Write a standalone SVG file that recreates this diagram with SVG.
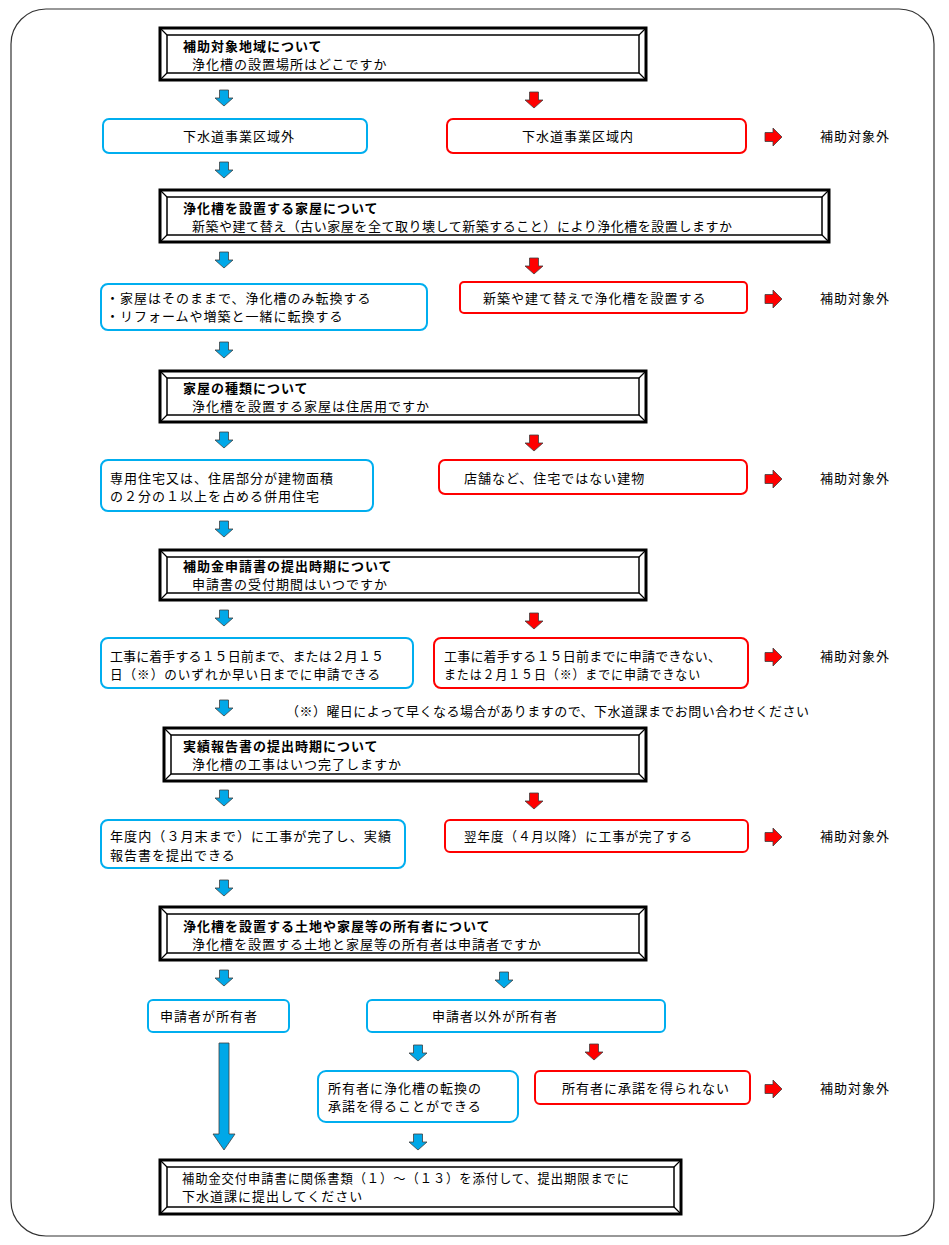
<svg xmlns="http://www.w3.org/2000/svg" width="949" height="1245" viewBox="0 0 949 1245">
<defs>
<style>
text{font-family:"Noto Sans CJK JP","Noto Sans CJK SC",sans-serif;font-size:13px;fill:#000;letter-spacing:1px}
.b{font-weight:bold}
.fo{fill:#fff;stroke:#000;stroke-width:3}
.fi{fill:#fff;stroke:#000;stroke-width:1.5}
.fl{stroke:#000;stroke-width:1.2}
.bb{fill:#fff;stroke:#00AEEF;stroke-width:2}
.rb{fill:#fff;stroke:#FF0000;stroke-width:2}
.ab{fill:#00A8E8;stroke:#404040;stroke-width:0.8}
.ar{fill:#FF0000;stroke:#404040;stroke-width:0.8}
</style>
<path id="dn" d="M-4.5,0 H4.5 V8 H9 L0,16 L-9,8 H-4.5 Z"/>
<path id="rt" d="M0,-4.5 V4.5 H8 V9 L17,0 L8,-9 V-4.5 Z"/>
</defs>
<rect x="11" y="9" width="923" height="1227" rx="35" fill="#fff" stroke="#333" stroke-width="1.2"/>

<g id="q1">
<rect class="fo" x="160" y="28" width="486" height="52"/>
<rect class="fi" x="167" y="35" width="472" height="38"/>
<path class="fl" d="M160,28 L167,35 M646,28 L639,35 M160,80 L167,73 M646,80 L639,73"/>
<text class="b" x="183" y="51">補助対象地域について</text>
<text x="192" y="69">浄化槽の設置場所はどこですか</text>
</g>

<g id="n1a"><rect class="bb" x="103" y="119" width="264" height="34" rx="6"/><text x="183" y="141">下水道事業区域外</text></g>
<g id="n1b"><rect class="rb" x="447" y="119" width="299" height="34" rx="6"/><text x="522" y="141">下水道事業区域内</text></g>
<g id="x1"><text x="820" y="141">補助対象外</text></g>

<g id="q2">
<rect class="fo" x="160" y="190" width="669" height="52"/>
<rect class="fi" x="167" y="197" width="655" height="38"/>
<path class="fl" d="M160,190 L167,197 M829,190 L822,197 M160,242 L167,235 M829,242 L822,235"/>
<text class="b" x="183" y="213">浄化槽を設置する家屋について</text>
<text x="192" y="231" textLength="541" lengthAdjust="spacing">新築や建て替え（古い家屋を全て取り壊して新築すること）により浄化槽を設置しますか</text>
</g>

<g id="n2a"><rect class="bb" x="101" y="284" width="326" height="46" rx="7"/>
<text x="106" y="303">・家屋はそのままで、浄化槽のみ転換する</text>
<text x="106" y="321">・リフォームや増築と一緒に転換する</text></g>
<g id="n2b"><rect class="rb" x="460" y="282" width="287" height="31" rx="4"/><text x="483" y="303">新築や建て替えで浄化槽を設置する</text></g>
<g id="x2"><text x="820" y="303">補助対象外</text></g>

<g id="q3">
<rect class="fo" x="160" y="371" width="486" height="51"/>
<rect class="fi" x="167" y="378" width="472" height="37"/>
<path class="fl" d="M160,371 L167,378 M646,371 L639,378 M160,422 L167,415 M646,422 L639,415"/>
<text class="b" x="183" y="393">家屋の種類について</text>
<text x="192" y="411">浄化槽を設置する家屋は住居用ですか</text>
</g>

<g id="n3a"><rect class="bb" x="101" y="460" width="272" height="51" rx="7"/>
<text x="110" y="483">専用住宅又は、住居部分が建物面積</text>
<text x="110" y="501">の２分の１以上を占める併用住宅</text></g>
<g id="n3b"><rect class="rb" x="439" y="460" width="308" height="34" rx="6"/><text x="464" y="483">店舗など、住宅ではない建物</text></g>
<g id="x3"><text x="820" y="483">補助対象外</text></g>

<g id="q4">
<rect class="fo" x="160" y="550" width="486" height="50"/>
<rect class="fi" x="167" y="557" width="472" height="36"/>
<path class="fl" d="M160,550 L167,557 M646,550 L639,557 M160,600 L167,593 M646,600 L639,593"/>
<text class="b" x="183" y="571">補助金申請書の提出時期について</text>
<text x="192" y="589">申請書の受付期間はいつですか</text>
</g>

<g id="n4a"><rect class="bb" x="101" y="638" width="312" height="50" rx="7"/>
<text x="110" y="661" textLength="275" lengthAdjust="spacing">工事に着手する１５日前まで、または２月１５</text>
<text x="110" y="679" textLength="271" lengthAdjust="spacingAndGlyphs">日（※）のいずれか早い日までに申請できる</text></g>
<g id="n4b"><rect class="rb" x="434" y="638" width="314" height="50" rx="7"/>
<text x="444" y="661" textLength="278" lengthAdjust="spacing">工事に着手する１５日前までに申請できない、</text>
<text x="444" y="679" textLength="257" lengthAdjust="spacingAndGlyphs">または２月１５日（※）までに申請できない</text></g>
<g id="x4"><text x="820" y="661">補助対象外</text></g>
<g id="note"><text x="286" y="716" textLength="524" lengthAdjust="spacing">（※）曜日によって早くなる場合がありますので、下水道課までお問い合わせください</text></g>

<g id="q5">
<rect class="fo" x="164" y="728" width="482" height="53"/>
<rect class="fi" x="171" y="735" width="468" height="39"/>
<path class="fl" d="M164,728 L171,735 M646,728 L639,735 M164,781 L171,774 M646,781 L639,774"/>
<text class="b" x="183" y="751">実績報告書の提出時期について</text>
<text x="192" y="769">浄化槽の工事はいつ完了しますか</text>
</g>

<g id="n5a"><rect class="bb" x="101" y="820" width="304" height="48" rx="7"/>
<text x="110" y="841" textLength="282" lengthAdjust="spacingAndGlyphs">年度内（３月末まで）に工事が完了し、実績</text>
<text x="110" y="860">報告書を提出できる</text></g>
<g id="n5b"><rect class="rb" x="445" y="820" width="303" height="32" rx="5"/><text x="464" y="841" textLength="229" lengthAdjust="spacingAndGlyphs">翌年度（４月以降）に工事が完了する</text></g>
<g id="x5"><text x="820" y="841">補助対象外</text></g>

<g id="q6">
<rect class="fo" x="160" y="907" width="486" height="53"/>
<rect class="fi" x="167" y="914" width="472" height="39"/>
<path class="fl" d="M160,907 L167,914 M646,907 L639,914 M160,960 L167,953 M646,960 L639,953"/>
<text class="b" x="183" y="931">浄化槽を設置する土地や家屋等の所有者について</text>
<text x="192" y="949">浄化槽を設置する土地と家屋等の所有者は申請者ですか</text>
</g>

<g id="n6a"><rect class="bb" x="148" y="1000" width="141" height="32" rx="5"/><text x="160" y="1021">申請者が所有者</text></g>
<g id="n6b"><rect class="bb" x="367" y="1000" width="298" height="32" rx="5"/><text x="432" y="1021">申請者以外が所有者</text></g>

<g id="n7a"><rect class="bb" x="318" y="1071" width="200" height="51" rx="8"/>
<text x="328" y="1093">所有者に浄化槽の転換の</text>
<text x="328" y="1111">承諾を得ることができる</text></g>
<g id="n7b"><rect class="rb" x="535" y="1071" width="215" height="33" rx="5"/><text x="562" y="1093">所有者に承諾を得られない</text></g>
<g id="x7"><text x="820" y="1093">補助対象外</text></g>

<g id="final">
<rect class="fo" x="160" y="1160" width="521" height="54"/>
<rect class="fi" x="167" y="1167" width="507" height="40"/>
<path class="fl" d="M160,1160 L167,1167 M681,1160 L674,1167 M160,1214 L167,1207 M681,1214 L674,1207"/>
<text x="182" y="1183" textLength="448" lengthAdjust="spacingAndGlyphs">補助金交付申請書に関係書類（１）～（１３）を添付して、提出期限までに</text>
<text x="182" y="1201">下水道課に提出してください</text>
</g>

<g id="connectors">
<use href="#dn" class="ab" x="224" y="90"/>
<use href="#dn" class="ar" x="534" y="92"/>
<use href="#rt" class="ar" x="765" y="137"/>
<use href="#dn" class="ab" x="224" y="162"/>
<use href="#dn" class="ab" x="224" y="252"/>
<use href="#dn" class="ar" x="534" y="258"/>
<use href="#rt" class="ar" x="765" y="299"/>
<use href="#dn" class="ab" x="224" y="342"/>
<use href="#dn" class="ab" x="224" y="432"/>
<use href="#dn" class="ar" x="534" y="435"/>
<use href="#rt" class="ar" x="765" y="479"/>
<use href="#dn" class="ab" x="224" y="521"/>
<use href="#dn" class="ab" x="224" y="610"/>
<use href="#dn" class="ar" x="534" y="613"/>
<use href="#rt" class="ar" x="765" y="657"/>
<use href="#dn" class="ab" x="224" y="700"/>
<use href="#dn" class="ab" x="224" y="790"/>
<use href="#dn" class="ar" x="534" y="793"/>
<use href="#rt" class="ar" x="765" y="837"/>
<use href="#dn" class="ab" x="224" y="880"/>
<use href="#dn" class="ab" x="224" y="970"/>
<use href="#dn" class="ab" x="504" y="972"/>
<path class="ab" d="M219,1043 H229 V1134 H235 L224,1150 L213,1134 H219 Z"/>
<use href="#dn" class="ab" x="418" y="1045"/>
<use href="#dn" class="ar" x="594" y="1044"/>
<use href="#rt" class="ar" x="765" y="1089"/>
<use href="#dn" class="ab" x="418" y="1134"/>
</g>
</svg>
